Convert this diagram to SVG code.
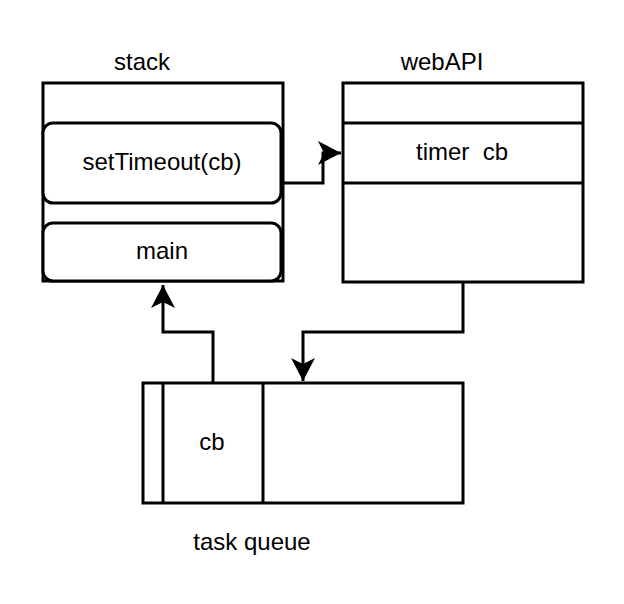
<svg xmlns="http://www.w3.org/2000/svg" width="624" height="604" viewBox="0 0 624 604">
<style>
.s{fill:#fff;stroke:#000;stroke-width:3}
.l{fill:none;stroke:#000;stroke-width:3}
.t{font-family:"Liberation Sans",Arial,sans-serif;font-size:24px;fill:#000;text-anchor:middle}
</style>
<defs>
<marker id="ah" viewBox="0 0 24 24" refX="23" refY="12" markerWidth="24" markerHeight="24" markerUnits="userSpaceOnUse" orient="auto">
<path d="M23,12 L0,0 L6,12 L0,24 Z" fill="#000"/>
</marker>
</defs>
<rect width="624" height="604" fill="#fff"/>
<g id="stack">
<rect class="s" x="43" y="83" width="240" height="198"/>
<rect class="s" x="43" y="123" width="238" height="80" rx="10"/>
<rect class="s" x="43" y="223" width="238" height="58" rx="10"/>
<text class="t" x="142" y="70">stack</text>
<text class="t" x="162" y="170">setTimeout(cb)</text>
<text class="t" x="162" y="259">main</text>
</g>
<g id="webapi">
<rect class="s" x="343" y="83" width="240" height="199"/>
<line class="l" x1="343" y1="123" x2="583" y2="123"/>
<line class="l" x1="343" y1="183" x2="583" y2="183"/>
<text class="t" x="442" y="70">webAPI</text>
<text class="t" x="462" y="160" xml:space="preserve">timer  cb</text>
</g>
<g id="taskqueue">
<rect class="s" x="143" y="383" width="320" height="120"/>
<line class="l" x1="163" y1="383" x2="163" y2="503"/>
<line class="l" x1="263" y1="383" x2="263" y2="503"/>
<text class="t" x="212" y="450">cb</text>
<text class="t" x="252" y="550">task queue</text>
</g>
<g id="connectors">
<path class="l" d="M283,183 L323,183 L323,153 L341,153" marker-end="url(#ah)"/>
<path class="l" d="M463,283 L463,332 L303,332 L303,381" marker-end="url(#ah)"/>
<path class="l" d="M213,383 L213,332 L163,332 L163,285" marker-end="url(#ah)"/>
</g>
</svg>
